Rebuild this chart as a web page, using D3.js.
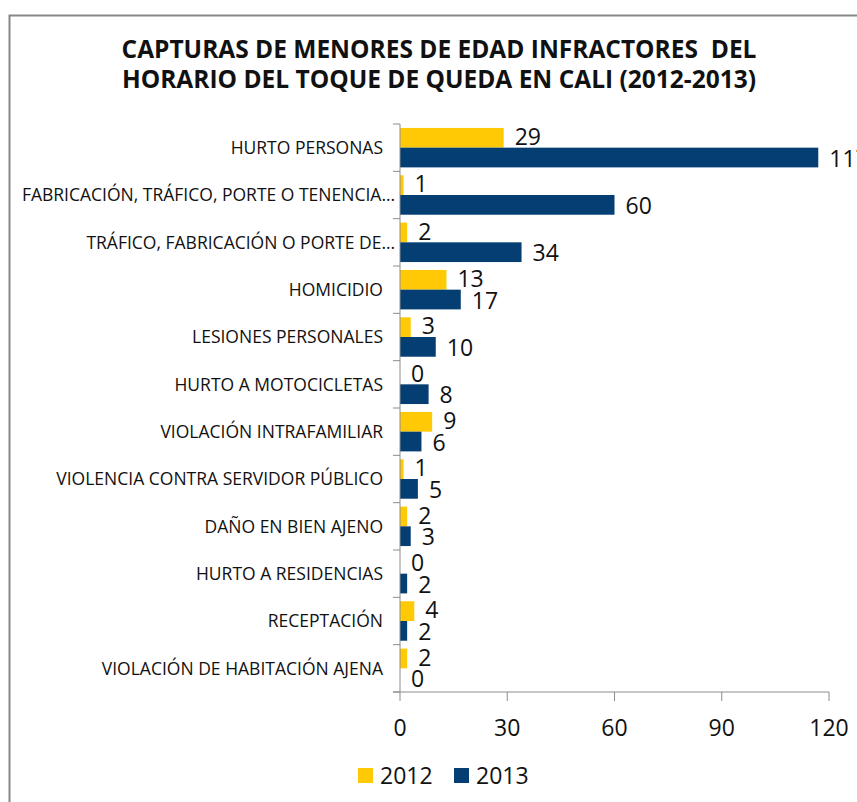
<!DOCTYPE html>
<html>
<head>
<meta charset="utf-8">
<script src="https://cdn.jsdelivr.net/npm/d3@7"></script>
<style>
  body { margin: 0; background: #fff; }
  text { font-family: "Open Sans", sans-serif; fill: #111; }
</style>
</head>
<body>
<div id="chart"></div>
<script>
var width = 857;
var height = 802;

//data
var categories = [
	'HURTO PERSONAS',
	'FABRICACIÓN, TRÁFICO, PORTE O TENENCIA…',
	'TRÁFICO, FABRICACIÓN O PORTE DE…',
	'HOMICIDIO',
	'LESIONES PERSONALES',
	'HURTO A MOTOCICLETAS',
	'VIOLACIÓN INTRAFAMILIAR',
	'VIOLENCIA CONTRA SERVIDOR PÚBLICO',
	'DAÑO EN BIEN AJENO',
	'HURTO A RESIDENCIAS',
	'RECEPTACIÓN',
	'VIOLACIÓN DE HABITACIÓN AJENA'
];
var values2012 = [29, 1, 2, 13, 3, 0, 9, 1, 2, 0, 4, 2];
var values2013 = [117, 60, 34, 17, 10, 8, 6, 5, 3, 2, 2, 0];
var seriesNames = ['2012', '2013'];
var xTicks = [0, 30, 60, 90, 120];
var titleLines = [
	'CAPTURAS DE MENORES DE EDAD INFRACTORES  DEL',
	'HORARIO DEL TOQUE DE QUEDA EN CALI (2012-2013)'
];

//colors
var yellow = '#FFCA05';
var blue = '#053E73';
var axisGrey = '#8c8c8c';
var seriesColors = [yellow, blue];

var svg = d3.select('#chart')
	.append('svg')
	.attr('width', width)
	.attr('height', height);

svg.append('rect')
	.attr('width', width).attr('height', height)
	.style('fill', '#fff');

// chart frame (runs off the right and bottom edges)
svg.append('rect')
	.attr('x', 9.5).attr('y', 15.5)
	.attr('width', 1000).attr('height', 1000)
	.style('fill', 'none')
	.style('stroke', '#878787')
	.style('stroke-width', 2);

// title
svg.selectAll('.title')
	.data(titleLines)
	.enter().append('text')
	.attr('class', 'title')
	.attr('x', 439)
	.attr('y', function(d, i) { return 58 + i * 30; })
	.attr('text-anchor', 'middle')
	.style('font-weight', 'bold')
	.style('font-size', '24.5px')
	.style('white-space', 'pre')
	.text(function(d) { return d; });

var x = d3.scaleLinear().domain([0, 120]).range([400, 829]);
var y = d3.scaleBand().domain(categories).range([124, 692]);
var sub = d3.scaleBand().domain(seriesNames).range([0, y.bandwidth()]).paddingOuter(0.2);

var rows = categories.map(function(c, i) {
	return { cat: c, vals: [values2012[i], values2013[i]] };
});

// bars
var group = svg.selectAll('.row')
	.data(rows)
	.enter().append('g')
	.attr('class', 'row')
	.attr('transform', function(d) { return 'translate(0,' + y(d.cat) + ')'; });

group.selectAll('rect')
	.data(function(d) { return d.vals.map(function(v, k) { return { v: v, s: seriesNames[k], k: k }; }); })
	.enter().append('rect')
	.attr('x', x(0))
	.attr('y', function(d) { return sub(d.s); })
	.attr('width', function(d) { return x(d.v) - x(0); })
	.attr('height', sub.bandwidth())
	.style('fill', function(d) { return seriesColors[d.k]; });

// value labels
group.selectAll('.val')
	.data(function(d) { return d.vals.map(function(v, k) { return { v: v, s: seriesNames[k], k: k }; }); })
	.enter().append('text')
	.attr('class', 'val')
	.attr('x', function(d) { return x(d.v) + 11; })
	.attr('y', function(d) { return sub(d.s) + sub.bandwidth() / 2 + (d.k == 0 ? -1 : 1); })
	.attr('dy', '0.36em')
	.style('font-size', '23px')
	.text(function(d) { return d.v; });

// category axis
var yAxis = svg.append('g');
yAxis.append('line')
	.attr('x1', x(0)).attr('x2', x(0))
	.attr('y1', y.range()[0]).attr('y2', y.range()[1])
	.style('stroke', axisGrey);
yAxis.selectAll('.ytick')
	.data(categories.concat([null]))
	.enter().append('line')
	.attr('class', 'ytick')
	.attr('x1', x(0) - 7).attr('x2', x(0))
	.attr('y1', function(d) { return d ? y(d) : y.range()[1]; })
	.attr('y2', function(d) { return d ? y(d) : y.range()[1]; })
	.style('stroke', axisGrey);
yAxis.selectAll('.ylabel')
	.data(categories)
	.enter().append('text')
	.attr('class', 'ylabel')
	.attr('x', function(d) { return d.slice(-1) == '…' ? 395 : 383; })
	.attr('y', function(d) { return y(d) + y.bandwidth() / 2; })
	.attr('dy', '0.36em')
	.attr('text-anchor', 'end')
	.style('font-size', '17.5px')
	.text(function(d) { return d; });

// value axis
var xAxis = svg.append('g');
xAxis.append('line')
	.attr('x1', x(0) - 7).attr('x2', x(120))
	.attr('y1', 692).attr('y2', 692)
	.style('stroke', axisGrey);
xAxis.selectAll('.xtick')
	.data(xTicks)
	.enter().append('line')
	.attr('x1', function(d) { return x(d); })
	.attr('x2', function(d) { return x(d); })
	.attr('y1', 692).attr('y2', 701)
	.style('stroke', axisGrey);
xAxis.selectAll('.xlabel')
	.data(xTicks)
	.enter().append('text')
	.attr('x', function(d) { return x(d); })
	.attr('y', 736)
	.attr('text-anchor', 'middle')
	.style('font-size', '23px')
	.text(function(d) { return d; });

// legend
var legendX = [358, 454];
var legend = svg.selectAll('.legend')
	.data(seriesNames)
	.enter().append('g')
	.attr('class', 'legend')
	.attr('transform', function(d, i) { return 'translate(' + legendX[i] + ',768)'; });
legend.append('rect')
	.attr('width', 15).attr('height', 15)
	.style('fill', function(d, i) { return seriesColors[i]; });
legend.append('text')
	.attr('x', 22)
	.attr('y', 8)
	.attr('dy', '0.36em')
	.style('font-size', '23px')
	.text(function(d) { return d; });
</script>
</body>
</html>
